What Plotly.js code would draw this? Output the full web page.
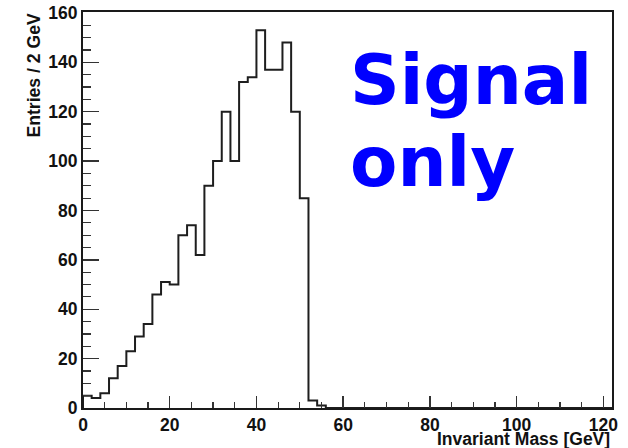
<!DOCTYPE html>
<html>
<head>
<meta charset="utf-8">
<script src="https://cdn.plot.ly/plotly-3.0.1.min.js"></script>
<style>
  html, body { margin: 0; padding: 0; background: #fff; }
  #chart { width: 628px; height: 448px; }
</style>
</head>
<body>
<div id="chart"></div>
<script>
// Invariant mass histogram, 2 GeV bins from 0 to 122 GeV
const binWidth = 2;
const xMin = 0;
const xMax = 122;
const counts = [
  5, 4, 6, 12, 17, 23, 29, 34, 46, 51,
  50, 70, 74, 62, 90, 100, 120, 100, 132, 134,
  153, 137, 137, 148, 120, 85, 3, 1, 0, 0,
  0, 0, 0, 0, 0, 0, 0, 0, 0, 0,
  0, 0, 0, 0, 0, 0, 0, 0, 0, 0,
  0, 0, 0, 0, 0, 0, 0, 0, 0, 0,
  0
];
const xTickVals = [0, 20, 40, 60, 80, 100, 120];
const yTickVals = [0, 20, 40, 60, 80, 100, 120, 140, 160];
const xTitle = 'Invariant Mass [GeV]';
const yTitle = 'Entries / 2 GeV';
const labelLines = ['Signal', 'only'];

// Step outline: start at the baseline, then one point per bin's left edge,
// closing at the right edge of the last bin.
const stepX = [xMin];
const stepY = [0];
counts.forEach((c, i) => {
  stepX.push(xMin + i * binWidth);
  stepY.push(c);
});
stepX.push(xMin + counts.length * binWidth);
stepY.push(counts[counts.length - 1]);

const tickFont = { family: 'Liberation Sans, Arial, sans-serif', size: 17.5, color: '#111' };
const xTitleFont = { family: 'Liberation Sans, Arial, sans-serif', size: 17.5, color: '#111' };
const yTitleFont = { family: 'Liberation Sans, Arial, sans-serif', size: 17.6, color: '#111' };
const bigFont = { family: 'DejaVu Sans, sans-serif', size: 69, color: '#0000ff' };

const trace = {
  type: 'scatter',
  mode: 'lines',
  x: stepX,
  y: stepY,
  line: { shape: 'hv', color: '#1e1e1e', width: 2 },
  hoverinfo: 'skip',
  showlegend: false
};

const layout = {
  width: 628,
  height: 448,
  margin: { l: 83, r: 16, t: 12, b: 40, pad: 0 },
  paper_bgcolor: '#ffffff',
  plot_bgcolor: '#ffffff',
  showlegend: false,
  xaxis: {
    range: [xMin, xMax],
    tickvals: xTickVals,
    ticktext: xTickVals.map(v => '<b>' + v + '</b>'),
    ticks: 'inside',
    ticklen: 12,
    tickwidth: 1.5,
    tickcolor: '#333',
    minor: { dtick: 5, tick0: 0, ticks: 'inside', ticklen: 6, tickwidth: 1.2, tickcolor: '#333', showgrid: false },
    showgrid: false,
    zeroline: false,
    showline: true,
    mirror: true,
    linecolor: '#1a1a1a',
    linewidth: 2,
    tickfont: tickFont,
    fixedrange: true
  },
  yaxis: {
    range: [0, 160.4],
    tickvals: yTickVals,
    ticktext: yTickVals.map(v => '<b>' + v + '</b>'),
    ticks: 'inside',
    ticklen: 16,
    tickwidth: 1.5,
    tickcolor: '#333',
    minor: { dtick: 5, tick0: 0, ticks: 'inside', ticklen: 8, tickwidth: 1.2, tickcolor: '#333', showgrid: false },
    showgrid: false,
    zeroline: false,
    showline: true,
    mirror: true,
    linecolor: '#1a1a1a',
    linewidth: 2,
    tickfont: tickFont,
    fixedrange: true
  },
  annotations: [
    {
      text: '<b>' + xTitle + '</b>',
      xref: 'paper', yref: 'paper',
      x: 1.0, y: (408.3 - 439) / 396.6,
      xanchor: 'right', yanchor: 'middle',
      showarrow: false,
      font: xTitleFont
    },
    {
      text: '<b>' + yTitle + '</b>',
      xref: 'paper', yref: 'paper',
      x: (33.5 - 83) / 529, y: 1.0,
      xanchor: 'center', yanchor: 'top',
      textangle: -90,
      showarrow: false,
      font: yTitleFont
    },
    {
      text: '<b>' + labelLines[0] + '</b>',
      xref: 'paper', yref: 'paper',
      x: 0.5, y: (408.3 - 80) / 396.6,
      xanchor: 'left', yanchor: 'middle',
      showarrow: false,
      font: bigFont
    },
    {
      text: '<b>' + labelLines[1] + '</b>',
      xref: 'paper', yref: 'paper',
      x: 0.5, y: (408.3 - 162) / 396.6,
      xanchor: 'left', yanchor: 'middle',
      showarrow: false,
      font: bigFont
    }
  ]
};

Plotly.newPlot('chart', [trace], layout, { displayModeBar: false, staticPlot: true });
</script>
</body>
</html>
